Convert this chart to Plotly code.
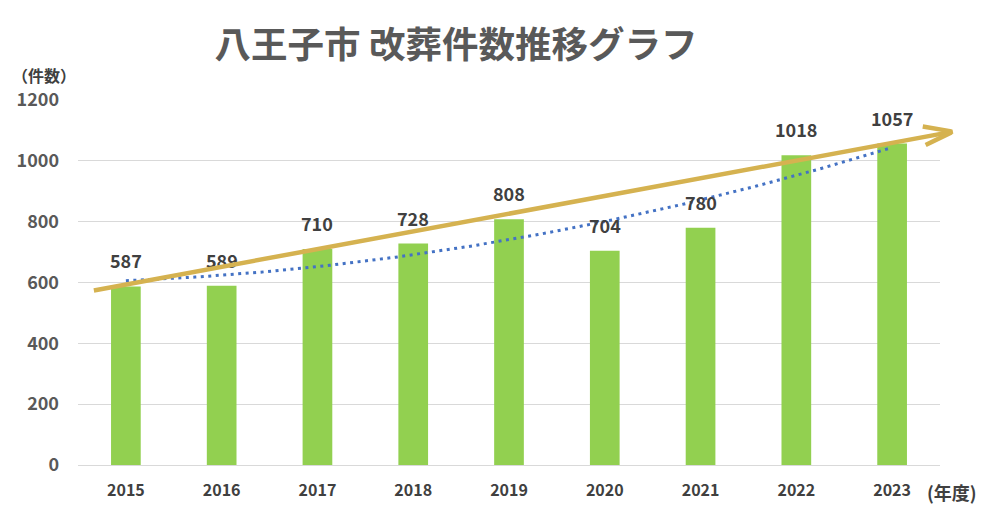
import numpy as np
import plotly.graph_objects as go

# ---- data ----
years = [2015, 2016, 2017, 2018, 2019, 2020, 2021, 2022, 2023]
counts = [587, 589, 710, 728, 808, 704, 780, 1018, 1057]
y_ticks = [0, 200, 400, 600, 800, 1000, 1200]
title_text = "八王子市 改葬件数推移グラフ"
y_unit = "（件数）"
x_unit = "(年度)"

# decorative trend arrow (data units: year, count)
arrow_start = (2014.65, 573)
arrow_tip = (2023.635, 1096)
arrow_arm_upper = (2023.32, 1113)
arrow_arm_lower = (2023.35, 1052)

FONT = "Noto Sans CJK JP, Noto Sans, sans-serif"
ARROW_COLOR = "#D5B250"

# figure geometry (page body adds an 8px offset)
W, H = 991, 508
ML, MR, MT, MB = 70, 59, 92, 51
PW, PH = W - ML - MR, H - MT - MB


def px_to_paper(xp, yp):
    # xp, yp: screenshot pixel coordinates
    return ((xp - 8 - ML) / PW, (H - MB - (yp - 8)) / PH)


# polynomial (order 2) trendline fitted to data
coef = np.polyfit(np.array(years, dtype=float), np.array(counts, dtype=float), 2)
tx = np.linspace(years[0], years[-1], 200)
ty = np.polyval(coef, tx)

fig = go.Figure()
fig.add_trace(go.Bar(
    x=years, y=counts, width=0.31,
    marker=dict(color="#92D050", line=dict(width=0)),
    hoverinfo="x+y", showlegend=False,
))
fig.add_trace(go.Scatter(
    x=tx, y=ty, mode="lines",
    line=dict(color="#4472C4", width=3, dash="3px,4.5px"),
    hoverinfo="skip", showlegend=False,
))

annotations = []
for yr, c in zip(years, counts):
    annotations.append(dict(
        x=yr, y=c, xref="x", yref="y", text=f"<b>{c}</b>", showarrow=False,
        yanchor="bottom", yshift=11,
        font=dict(family=FONT, size=18, color="#404040"),
    ))

# arrow shaft and chevron arms
annotations.append(dict(
    x=arrow_tip[0], y=arrow_tip[1], ax=arrow_start[0], ay=arrow_start[1],
    xref="x", yref="y", axref="x", ayref="y", text="", showarrow=True,
    arrowhead=0, arrowwidth=4.5, arrowcolor=ARROW_COLOR, standoff=0, startstandoff=0,
))
for arm in (arrow_arm_upper, arrow_arm_lower):
    annotations.append(dict(
        x=arm[0], y=arm[1], ax=arrow_tip[0], ay=arrow_tip[1],
        xref="x", yref="y", axref="x", ayref="y", text="", showarrow=True,
        arrowhead=0, arrowwidth=4.5, arrowcolor=ARROW_COLOR, standoff=0, startstandoff=0,
    ))

ux, uy = px_to_paper(10, 75)
annotations.append(dict(
    x=ux, y=uy, xref="paper", yref="paper",
    text=f"<b>{y_unit}</b>", showarrow=False, xanchor="left", yanchor="middle",
    font=dict(family=FONT, size=16, color="#404040"),
))
vx, vy = px_to_paper(979, 492)
annotations.append(dict(
    x=vx, y=vy, xref="paper", yref="paper",
    text=f"<b>{x_unit}</b>", showarrow=False, xanchor="right", yanchor="middle",
    font=dict(family=FONT, size=18, color="#404040"),
))

fig.update_layout(
    width=W, height=H,
    margin=dict(l=ML, r=MR, t=MT, b=MB, autoexpand=False),
    paper_bgcolor="white", plot_bgcolor="white",
    title=dict(
        text=f"<b>{title_text}</b>", xref="container", yref="container",
        x=(456 - 8) / W, y=1 - (45 - 8) / H, xanchor="center", yanchor="middle",
        font=dict(family=FONT, size=36.5, color="#595959"),
    ),
    xaxis=dict(
        range=[2014.5, 2023.5], tickmode="array", tickvals=years,
        ticktext=[f"<b>{y}</b>" for y in years],
        showgrid=False, zeroline=False, showline=False, ticks="",
        tickfont=dict(family=FONT, size=16, color="#404040"),
        ticklabelstandoff=14,
    ),
    yaxis=dict(
        range=[0, 1200], tickmode="array", tickvals=y_ticks,
        ticktext=[f"<b>{v}</b>" for v in y_ticks],
        showgrid=True, gridcolor="#D9D9D9", gridwidth=1,
        zeroline=True, zerolinecolor="#D9D9D9", zerolinewidth=1,
        showline=False, ticks="",
        tickfont=dict(family=FONT, size=18, color="#595959"),
        ticklabelstandoff=18,
    ),
    annotations=annotations,
    bargap=0.69,
)

fig.write_html("out.html")
